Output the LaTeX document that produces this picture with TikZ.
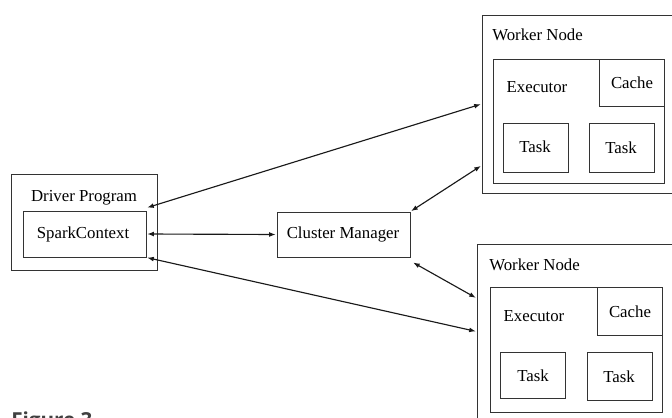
\documentclass[tikz,border=0pt]{standalone}
\usepackage{fontspec}
\setmainfont{Liberation Serif}
\newfontfamily\capfont{Open Sans}
\usetikzlibrary{arrows.meta,fit}

\tikzset{
  box/.style={draw=black!80,line width=0.75pt,inner sep=0pt},
  lbl/.style={font=\fontsize{12.6}{15}\selectfont,inner sep=0pt},
  link/.style={{Latex[length=5pt,width=3.6pt]}-{Latex[length=5pt,width=3.6pt]},line width=0.85pt,black!90,shorten <=0.5pt,shorten >=0.5pt}
}

\begin{document}
\begin{tikzpicture}[x=0.75pt,y=-0.75pt]
\path[use as bounding box,clip] (0,0) rectangle (672,418);
\fill[white] (0,0) rectangle (672,418);

% driver
\node[box,fit={(11,174) (157,270)}] (drv) {};
\node[lbl] (drvlbl) at (84,198) {Driver Program};
\node[box,fit={(23,211) (146,257)}] (spk) {};
\node[lbl] (spklbl) at (83,234) {SparkContext};

% cluster manager
\node[box,fit={(277,212) (410,257)}] (cm) {};
\node[lbl] (cmlbl) at (343,234) {Cluster Manager};

% worker 1
\node[box,fit={(482,15) (690,193)}] (wk1) {};
\node[lbl,anchor=west] (wk1lbl) at (492,35) {Worker Node};
\node[box,fit={(493,59) (664,183)}] (ex1) {};
\node[lbl] (ex1lbl) at (537,87) {Executor};
\node[box,fit={(599,59) (664,106)}] (ca1) {};
\node[lbl] (ca1lbl) at (632,83) {Cache};
\node[box,fit={(503,123) (568,172)}] (ta1) {};
\node[lbl] (ta1lbl) at (535,147) {Task};
\node[box,fit={(589,123) (654,172)}] (tb1) {};
\node[lbl] (tb1lbl) at (621,148) {Task};

% worker 2
\node[box,fit={(477,244) (690,440)}] (wk2) {};
\node[lbl,anchor=west] (wk2lbl) at (489,265) {Worker Node};
\node[box,fit={(490,287) (662,412)}] (ex2) {};
\node[lbl] (ex2lbl) at (534,316) {Executor};
\node[box,fit={(597,287) (662,335)}] (ca2) {};
\node[lbl] (ca2lbl) at (630,312) {Cache};
\node[box,fit={(500,352) (565,398)}] (ta2) {};
\node[lbl] (ta2lbl) at (533,376) {Task};
\node[box,fit={(587,352) (652,400)}] (tb2) {};
\node[lbl] (tb2lbl) at (619,377) {Task};

% links
\draw[link] ([yshift=2pt]spk.north east) -- (wk1.west);
\draw[link] (spk.east) -- (cm.west);
\draw[link] (cm.north east) -- ([yshift=21pt]wk1.south west);
\draw[link] ([shift={(1.5pt,-3.5pt)}]cm.south east) -- ([yshift=-41pt]wk2.north west);
\draw[link] (spk.south east) -- ([yshift=-66pt]wk2.north west);

% caption, cut by the page edge
\node[anchor=base west,inner sep=0pt,font=\capfont\bfseries\fontsize{15.5}{18}\selectfont,text=black!75] (cap) at (11,427) {Figure 3};
\end{tikzpicture}
\end{document}
